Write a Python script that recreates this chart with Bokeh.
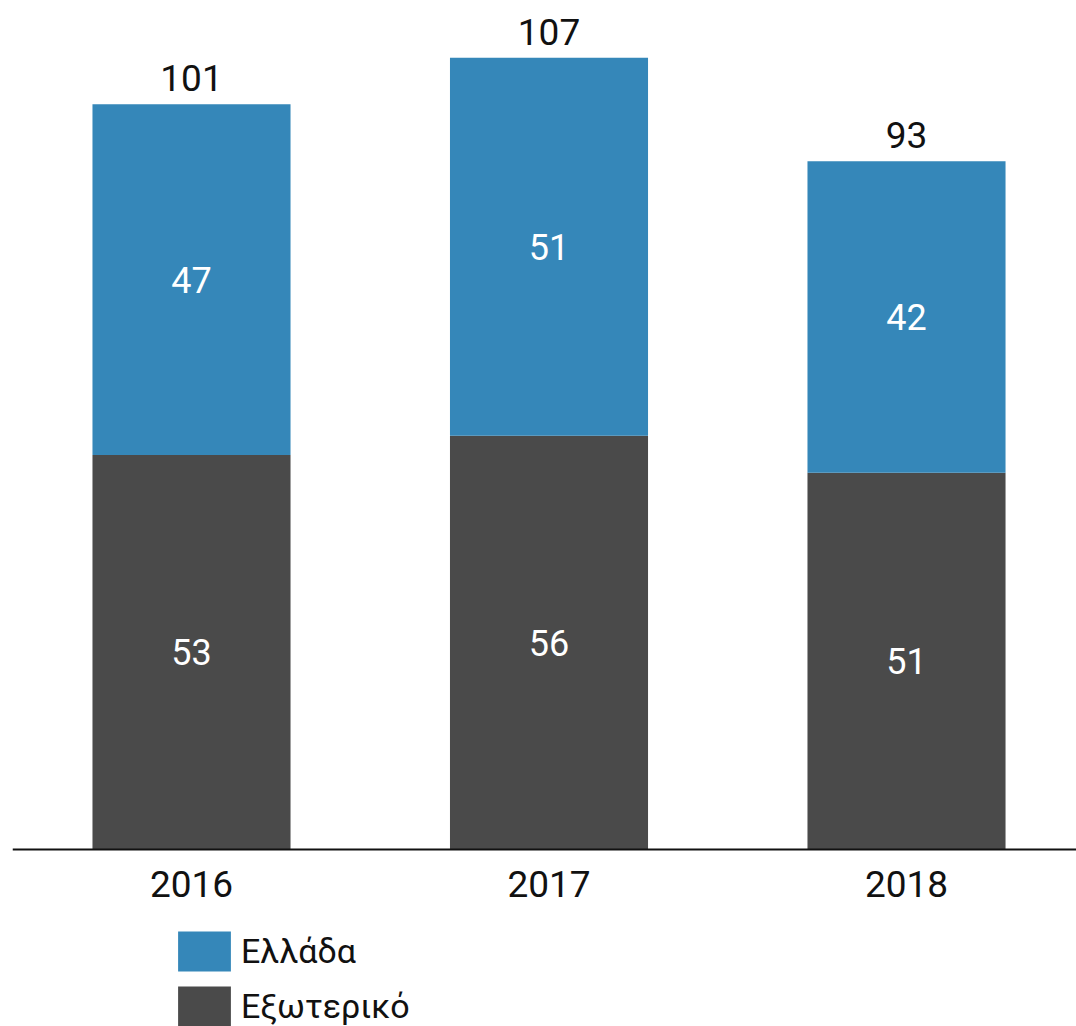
from bokeh.plotting import figure
from bokeh.models import ColumnDataSource, Legend, LegendItem, Range1d, Span
from bokeh.core.properties import value
from bokeh.embed import file_html
from bokeh.resources import INLINE

years = ["2016", "2017", "2018"]
exterior = [53.3, 55.9, 50.9]
greece = [47.4, 51.1, 42.1]
series_names = ["Ελλάδα", "Εξωτερικό"]

FONT = "Roboto"
BLUE = "#3587b9"
DARK = "#4a4a4a"
INK = "#111111"

xs = list(range(len(years)))
tot = [e + g for e, g in zip(exterior, greece)]
src = ColumnDataSource(dict(
    x=xs,
    year=years,
    zero=[0] * len(xs),
    ext=exterior,
    gr=greece,
    tot=tot,
    ext_mid=[e / 2 for e in exterior],
    gr_mid=[e + g / 2 for e, g in zip(exterior, greece)],
    ext_lbl=[str(round(v)) for v in exterior],
    gr_lbl=[str(round(v)) for v in greece],
    tot_lbl=[str(round(v)) for v in tot],
))

p = figure(width=1076, height=1026, x_range=Range1d(-0.5007, 2.4755),
           y_range=Range1d(-23.92, 114.73), output_backend="svg",
           toolbar_location=None, y_axis_location=None, x_axis_location=None,
           min_border_left=12, min_border_right=0, min_border_top=0,
           min_border_bottom=0)
p.outline_line_color = None
p.xgrid.visible = False
p.ygrid.visible = False

r_ext = p.vbar(x="x", bottom=0, top="ext", width=0.554, fill_color=DARK,
               line_color=None, source=src)
r_gr = p.vbar(x="x", bottom="ext", top="tot", width=0.554, fill_color=BLUE,
              line_color=None, source=src)

# baseline (category axis line)
p.add_layout(Span(location=0, dimension="width", line_color=INK, line_width=2))

# category labels
p.text(x="x", y="zero", text="year", source=src, text_color=INK,
       text_font=value(FONT), text_font_size="37px", text_align="center",
       text_baseline="alphabetic", y_offset=35)

p.text(x="x", y="ext_mid", text="ext_lbl", source=src, text_color="white",
       text_font=value(FONT), text_font_size="36px", text_align="center",
       text_baseline="middle")
p.text(x="x", y="gr_mid", text="gr_lbl", source=src, text_color="white",
       text_font=value(FONT), text_font_size="36px", text_align="center",
       text_baseline="middle")
p.text(x="x", y="tot", text="tot_lbl", source=src, text_color=INK,
       text_font=value(FONT), text_font_size="37px", text_align="center",
       text_baseline="alphabetic", y_offset=-26)

legend = Legend(items=[LegendItem(label=series_names[0], renderers=[r_gr]),
                       LegendItem(label=series_names[1], renderers=[r_ext])],
                location=(159, -5), orientation="vertical",
                glyph_width=66, glyph_height=50, label_height=50,
                label_text_font=FONT, label_text_font_size="34px",
                label_text_color=INK, label_standoff=4,
                spacing=5, padding=0, margin=0, border_line_color=None,
                background_fill_color=None, background_fill_alpha=0)
p.add_layout(legend)

open("out.html", "w").write(file_html(p, INLINE))
